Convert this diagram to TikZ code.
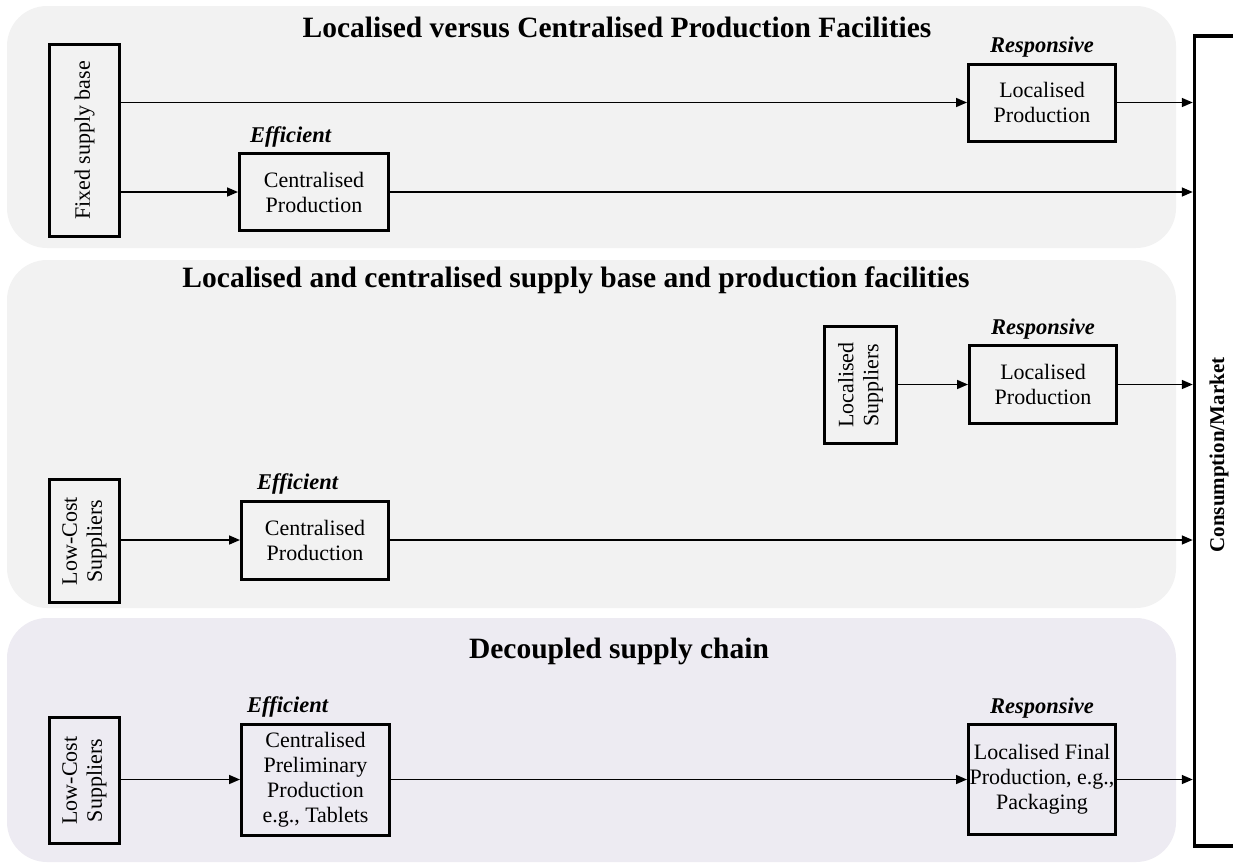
\documentclass[tikz,border=0pt]{standalone}
\usepackage{fontspec}
\setmainfont{Liberation Serif}
\usetikzlibrary{positioning,arrows.meta}

\definecolor{panelgrey}{RGB}{242,242,242}
\definecolor{panellilac}{RGB}{237,235,242}

\tikzset{
  panel/.style={rounded corners=40pt},
  stage/.style={draw, line width=3pt, align=center, inner sep=0pt,
    font=\fontsize{22}{25}\selectfont},
  supplier/.style={stage, rotate=90},
  tag/.style={inner sep=0pt, font=\fontsize{22.5}{25}\selectfont\bfseries\itshape},
  heading/.style={inner sep=0pt, font=\fontsize{29.5}{32}\selectfont\bfseries},
  flow/.style={line width=1.6pt, -{Triangle[length=11pt,width=9pt]}},
}

\begin{document}
\begin{tikzpicture}[x=1pt,y=-1pt]
\useasboundingbox (0,0) rectangle (1233,865);

% background panels
\fill[panelgrey, panel] (7,6) rectangle (1176,248);
\fill[panelgrey, panel] (7,260) rectangle (1176,608);
\fill[panellilac, panel] (7,618) rectangle (1176,862);

% market
\node[draw, line width=3.5pt, minimum width=49, minimum height=810, inner sep=0pt] (market) at (1219,441) {};
\node[rotate=90, inner sep=0pt, font=\fontsize{21}{24}\selectfont\bfseries] (marketlabel) at (1219,455) {Consumption/Market};

% panel 1
\node[heading, anchor=base] (t1) at (617,37) {Localised versus Centralised Production Facilities};
\node[supplier, minimum width=192, minimum height=70] (fsb) at (84.5,140.5) {Fixed supply base};
\node[stage, minimum width=149, minimum height=77] (cpa) at (314,192) {Centralised\\Production};
\node[stage, minimum width=147, minimum height=77] (lpa) at (1042,102.5) {Localised\\Production};
\node[tag, above=5pt of cpa.north west, anchor=south west, xshift=12pt] (effa) {Efficient};
\node[tag, above=5pt of lpa] (resa) {Responsive};

\draw[flow] (fsb.south |- lpa.west) -- (lpa.west);
\draw[flow] (lpa.east) -- (lpa.east -| market.west);
\draw[flow] (fsb.south |- cpa.west) -- (cpa.west);
\draw[flow] (cpa.east) -- (cpa.east -| market.west);

% panel 2
\node[heading, anchor=base] (t2) at (576,287) {Localised and centralised supply base and production facilities};
\node[supplier, minimum width=117, minimum height=72] (ls) at (860.5,385) {Localised\\Suppliers};
\node[stage, minimum width=147, minimum height=78] (lpb) at (1043,384.5) {Localised\\Production};
\node[supplier, minimum width=123, minimum height=70] (lcb) at (84.5,541) {Low-Cost\\Suppliers};
\node[stage, minimum width=147, minimum height=78] (cpb) at (315,540) {Centralised\\Production};
\node[tag, above=5pt of cpb.north west, anchor=south west, xshift=17pt] (effb) {Efficient};
\node[tag, above=5pt of lpb] (resb) {Responsive};

\draw[flow] (ls.south |- lpb.west) -- (lpb.west);
\draw[flow] (lpb.east) -- (lpb.east -| market.west);
\draw[flow] (lcb.south |- cpb.west) -- (cpb.west);
\draw[flow] (cpb.east) -- (cpb.east -| market.west);

% panel 3
\node[heading, anchor=base] (t3) at (619,658) {Decoupled supply chain};
\node[supplier, minimum width=126, minimum height=70] (lcc) at (84.5,780.5) {Low-Cost\\Suppliers};
\node[stage, minimum width=148, minimum height=111] (cpc) at (315.5,779.5) {Centralised\\Preliminary\\Production\\e.g., Tablets};
\node[stage, minimum width=147, minimum height=110] (lfc) at (1042,779.5) {Localised Final\\Production, e.g.,\\Packaging};
\node[tag, above=5pt of cpc.north west, anchor=south west, xshift=7pt] (effc) {Efficient};
\node[tag, above=5pt of lfc] (resc) {Responsive};

\draw[flow] (lcc.south |- cpc.west) -- (cpc.west);
\draw[flow] (cpc.east) -- (lfc.west);
\draw[flow] (lfc.east) -- (lfc.east -| market.west);
\end{tikzpicture}
\end{document}
